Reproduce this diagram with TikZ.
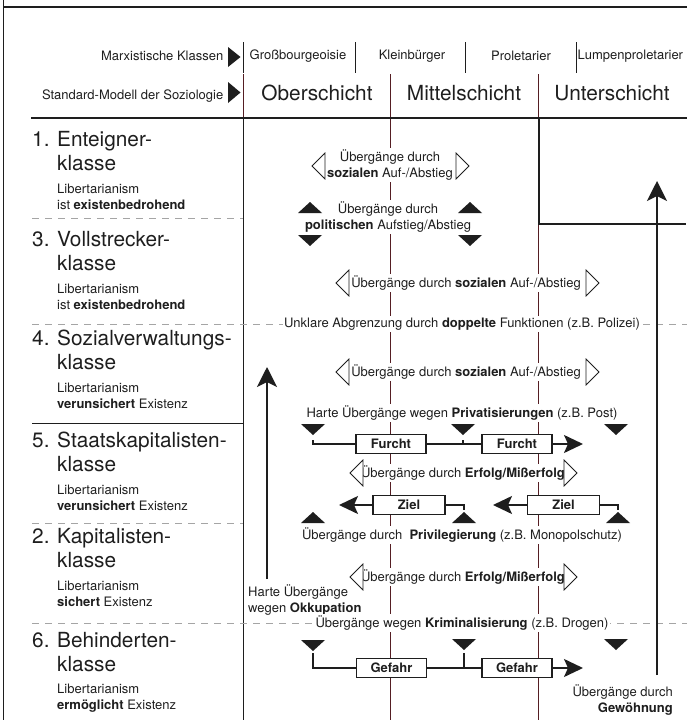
\documentclass[tikz,border=0pt]{standalone}
\usepackage{fontspec}
\setmainfont{TeX Gyre Heros}
\usetikzlibrary{arrows.meta}
\definecolor{vline}{RGB}{85,30,35}
\definecolor{ink}{RGB}{30,30,30}
\definecolor{dashgray}{RGB}{165,165,165}
\newcommand{\txtS}{\fontsize{13}{16}\selectfont}
\newcommand{\txtB}{\fontsize{20.8}{24}\selectfont}
\newcommand{\upTri}[2]{\fill[ink] (#1-12,#2) -- (#1+12,#2) -- (#1,#2-11) -- cycle;}
\newcommand{\dnTri}[2]{\fill[ink] (#1-12,#2) -- (#1+12,#2) -- (#1,#2+11) -- cycle;}
\newcommand{\lTri}[2]{\draw[otri] (#1+13,#2-13) -- (#1,#2) -- (#1+13,#2+13) -- cycle;}
\newcommand{\rTri}[2]{\draw[otri] (#1-13,#2-13) -- (#1,#2) -- (#1-13,#2+13) -- cycle;}
\tikzset{
  sm/.style={font=\txtS, text=ink, inner sep=1.5pt},
  smw/.style={sm, fill=white},
  big/.style={font=\txtB, text=ink, inner sep=0pt},
  vsep/.style={draw=vline, line width=0.9pt},
  gdash/.style={draw=dashgray, line width=1pt, dash pattern=on 7pt off 6pt},
  thickline/.style={line width=2pt, draw=ink},
  flow/.style={line width=1.8pt, draw=ink},
  flowarrow/.style={flow, -{Stealth[length=19pt,width=18pt,inset=4pt]}},
  lbl/.style={draw=ink, line width=1.5pt, fill=white, font=\txtS\bfseries, text=ink, minimum width=70pt, minimum height=19pt, inner sep=0pt},
  otri/.style={draw=ink, line width=0.8pt, fill=white},
  bigarrow/.style={-{Stealth[length=20pt,width=20pt,inset=5pt]}, line width=2pt, draw=ink},
}
\begin{document}
\begin{tikzpicture}[x=1pt,y=-1pt]
\useasboundingbox (0,0) rectangle (687,720);
% outer frame
\draw[ink, line width=1.3pt] (3.5,0) -- (3.5,720);
\draw[ink, line width=1.3pt] (3.5,7) -- (687,7);
% column lines
\draw[ink, line width=0.9pt] (243,42) -- (243,73);
\draw[vsep] (243,74) -- (243,118);
\draw[ink, line width=0.9pt] (243,118) -- (243,720);
\foreach \x in {355,465,576} \draw[ink, line width=0.9pt] (\x,42) -- (\x,73);
\draw[vsep] (390,74) -- (390,720);
\draw[vsep] (538,74) -- (538,720);
\draw[ink, line width=1.2pt] (31,118) -- (687,118);
% separators
\draw[gdash] (32,218) -- (243,218);
\draw[gdash] (32,324) -- (687,324);
\draw[ink, line width=0.9pt] (32,423) -- (243,423);
\draw[gdash] (32,523) -- (243,523);
\draw[gdash] (32,623) -- (687,623);
% Unterschicht frame
\draw[thickline] (539,118) -- (539,224) -- (686,224);
% big arrows
\coordinate (la0) at (267,579); \coordinate (la1) at (267,367);
\draw[bigarrow] (la0) -- (la1);
\coordinate (ra0) at (657,675); \coordinate (ra1) at (657,181);
\draw[bigarrow] (ra0) -- (ra1);

% header row 1
\node[sm, anchor=east] (mk) at (225,56) {Marxistische Klassen};
\fill[ink] (228,47) -- (240.5,57) -- (228,67) -- cycle;
\node[sm] (gb) at (298,56) {Großbourgeoisie};
\node[sm] (kb) at (412,56) {Kleinbürger};
\node[sm] (pr) at (521,56) {Proletarier};
\node[sm, anchor=west] (lp) at (576,56) {Lumpenproletarier};
% header row 2
\node[sm, anchor=east] (sm) at (225,96) {Standard-Modell der Soziologie};
\fill[ink] (228,82) -- (240.5,92.5) -- (228,103) -- cycle;
\node[big, anchor=base] (ob) at (317,100) {Oberschicht};
\node[big, anchor=base] (mi) at (464,100) {Mittelschicht};
\node[big, anchor=base] (un) at (612,100) {Unterschicht};

% left column
\node[big, anchor=base west] (t1) at (32,146) {1. Enteigner-};
\node[big, anchor=base west] (k1) at (57,170) {klasse};
\node[sm, anchor=west, align=left] (l1) at (55.5,197) {Libertarianism\\ist \textbf{existenbedrohend}};
\node[big, anchor=base west] (t3) at (32,246) {3. Vollstrecker-};
\node[big, anchor=base west] (k3) at (57,270) {klasse};
\node[sm, anchor=west, align=left] (l3) at (55.5,297) {Libertarianism\\ist \textbf{existenbedrohend}};
\node[big, anchor=base west] (t4) at (32,345) {4. Sozialverwaltungs-};
\node[big, anchor=base west] (k4) at (57,369) {klasse};
\node[sm, anchor=west, align=left] (l4) at (55.5,396) {Libertarianism\\\textbf{verunsichert} Existenz};
\node[big, anchor=base west] (t5) at (32,447) {5. Staatskapitalisten-};
\node[big, anchor=base west] (k5) at (57,471) {klasse};
\node[sm, anchor=west, align=left] (l5) at (55.5,498) {Libertarianism\\\textbf{verunsichert} Existenz};
\node[big, anchor=base west] (t2) at (32,543) {2. Kapitalisten-};
\node[big, anchor=base west] (k2) at (57,567) {klasse};
\node[sm, anchor=west, align=left] (l2) at (55.5,594) {Libertarianism\\\textbf{sichert} Existenz};
\node[big, anchor=base west] (t6) at (32,647) {6. Behinderten-};
\node[big, anchor=base west] (k6) at (57,671) {klasse};
\node[sm, anchor=west, align=left] (l6) at (55.5,698) {Libertarianism\\\textbf{ermöglicht} Existenz};

% middle texts
\node[smw, align=center] (s1) at (390,165) {Übergänge durch\\\textbf{sozialen} Auf-/Abstieg};
\lTri{312}{166} \rTri{469}{166}
\node[smw, align=center] (p1) at (388,217) {Übergänge durch\\\textbf{politischen} Aufstieg/Abstieg};
\upTri{310}{213} \dnTri{310}{235} \upTri{470}{213} \dnTri{470}{235}
\node[smw] (s2) at (466,283) {Übergänge durch \textbf{sozialen} Auf-/Abstieg};
\lTri{336}{283} \rTri{599}{283}
\node[smw] (ua) at (462,324) {Unklare Abgrenzung durch \textbf{doppelte} Funktionen (z.B. Polizei)};
\node[smw] (s3) at (466,372) {Übergänge durch \textbf{sozialen} Auf-/Abstieg};
\lTri{336}{372} \rTri{599}{372}
\node[smw] (hp) at (462,413) {Harte Übergänge wegen \textbf{Privatisierungen} (z.B. Post)};

% Furcht row
\dnTri{313}{424} \dnTri{463}{424} \dnTri{616}{424}
\node[lbl] (f1) at (391,444) {Furcht};
\node[lbl] (f2) at (517,444) {Furcht};
\coordinate (f0) at (313,440);
\coordinate (fm) at (463,440);
\coordinate (fa) at (583,444);
\draw[flow] (f0) |- (f1.west);
\draw[flow] (f1.east) -- (f2.west);
\draw[flow] (fm) -- (fm |- f1.center);
\draw[flowarrow] (f2.east) -- (fa);

\node[smw] (e1) at (463,473) {Übergänge durch \textbf{Erfolg/Mißerfolg}};
\lTri{350}{473} \rTri{577}{473}

% Ziel row
\node[lbl, minimum width=72pt] (z1) at (409,505) {Ziel};
\node[lbl, minimum width=72pt] (z2) at (563.5,505) {Ziel};
\coordinate (za1) at (339,505);
\coordinate (za2) at (493,505);
\coordinate (zc1) at (464,510);
\coordinate (zc2) at (618,510);
\draw[flowarrow] (z1.west) -- (za1);
\draw[flowarrow] (z2.west) -- (za2);
\draw[flow] (z1.east) -| (zc1);
\draw[flow] (z2.east) -| (zc2);
\upTri{464}{523} \upTri{618}{523} \upTri{313}{523}

\node[smw] (pv) at (462,535) {Übergänge durch\ \ \textbf{Privilegierung} (z.B. Monopolschutz)};
\node[smw] (e2) at (463,577) {Übergänge durch \textbf{Erfolg/Mißerfolg}};
\lTri{350}{577} \rTri{577}{577}
\node[sm, align=left, anchor=west] (ok) at (246.5,600) {Harte Übergänge\\wegen \textbf{Okkupation}};
\node[smw] (kr) at (462,623) {Übergänge wegen \textbf{Kriminalisierung} (z.B. Drogen)};

% Gefahr row
\dnTri{313}{640} \dnTri{464}{639} \dnTri{616}{639}
\node[lbl] (g1) at (391.5,668) {Gefahr};
\node[lbl] (g2) at (517,668) {Gefahr};
\coordinate (g0) at (313,653);
\coordinate (gm) at (464,653);
\coordinate (ga) at (583,668);
\draw[flow] (g0) |- (g1.west);
\draw[flow] (g1.east) -- (g2.west);
\draw[flow] (gm) -- (gm |- g1.center);
\draw[flowarrow] (g2.east) -- (ga);

\node[sm, align=right, anchor=east] (gw) at (674.5,700) {Übergänge durch\\\textbf{Gewöhnung}};
\end{tikzpicture}
\end{document}
